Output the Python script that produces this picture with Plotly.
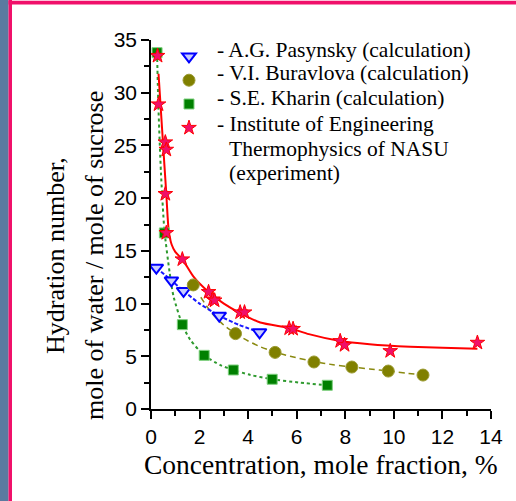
import plotly.graph_objects as go

# ---- data ----
# A.G. Pasynsky (calculation)
pas_x = [0.22, 0.84, 1.34, 2.81, 4.47]
pas_y = [13.4, 12.2, 11.2, 8.85, 7.28]
pas_fit_x = [0.22, 0.84, 1.34, 2.0, 2.81, 3.6, 4.47]
pas_fit_y = [13.4, 12.2, 11.2, 10.0, 8.85, 8.0, 7.28]

# V.I. Buravlova (calculation)
bur_x = [1.74, 3.48, 5.11, 6.71, 8.27, 9.77, 11.2]
bur_y = [11.77, 7.15, 5.37, 4.46, 3.98, 3.6, 3.22]
bur_fit_x = [2.05, 2.5, 3.0, 3.48, 4.0, 4.5, 5.1, 5.73, 6.7, 7.5, 8.3, 9.0, 9.8, 10.5, 11.2]
bur_fit_y = [10.6, 9.1, 7.95, 7.15, 6.45, 5.9, 5.4, 5.0, 4.5, 4.2, 3.98, 3.8, 3.6, 3.4, 3.22]

# S.E. Kharin (calculation)
kha_x = [0.25, 0.55, 1.29, 2.19, 3.39, 4.99, 7.26]
kha_y = [33.8, 16.7, 8.0, 5.09, 3.7, 2.82, 2.25]
kha_fit_x = [0.25, 0.3, 0.41, 0.55, 0.77, 0.93, 1.29, 1.62, 2.19, 2.85, 3.39, 4.09, 4.99, 6.14, 7.26]
kha_fit_y = [33.8, 29.0, 22.4, 17.0, 12.9, 10.65, 8.0, 6.55, 5.09, 4.17, 3.7, 3.23, 2.82, 2.5, 2.25]

# Institute of Engineering Thermophysics of NASU (experiment)
exp_x = [0.27, 0.31, 0.59, 0.63, 0.59, 0.63, 1.29, 2.37, 2.55, 2.62, 3.67, 3.85, 5.69, 5.85, 7.79, 7.97, 9.85, 13.44]
exp_y = [33.5, 28.9, 25.3, 24.6, 20.4, 16.7, 14.2, 11.1, 10.4, 10.3, 9.17, 9.17, 7.65, 7.6, 6.45, 6.07, 5.5, 6.29]
exp_fit_x = [0.31, 0.45, 0.55, 0.63, 0.68, 0.73, 0.85, 1.0, 1.29, 1.75, 2.37, 3.0, 3.67, 4.5, 5.73, 6.5, 7.79, 9.0, 10.67, 12.0, 13.44]
exp_fit_y = [31.8, 26.8, 23.2, 20.4, 18.4, 16.9, 15.6, 14.9, 14.2, 12.55, 11.1, 10.0, 9.1, 8.2, 7.66, 7.1, 6.45, 6.15, 5.91, 5.8, 5.72]

legend_lines = [
    "- A.G. Pasynsky (calculation)",
    "- V.I. Buravlova (calculation)",
    "- S.E. Kharin (calculation)",
    "- Institute of Engineering",
    "Thermophysics of NASU",
    "(experiment)",
]
x_title = "Concentration, mole fraction, %"
y_title_lines = ["Hydration number,", "mole of water / mole of sucrose"]

fig = go.Figure()

# fit lines
fig.add_trace(go.Scatter(x=kha_fit_x, y=kha_fit_y, mode="lines", showlegend=False,
                         line=dict(color="#2e9a2e", width=2, dash="dot", shape="spline", smoothing=0.6)))
fig.add_trace(go.Scatter(x=bur_fit_x, y=bur_fit_y, mode="lines", showlegend=False,
                         line=dict(color="#8a8a10", width=1.5, dash="6px,4px", shape="spline", smoothing=0.6)))
fig.add_trace(go.Scatter(x=pas_fit_x, y=pas_fit_y, mode="lines", showlegend=False,
                         line=dict(color="#1a1aff", width=2, dash="4px,2px", shape="spline", smoothing=0.6)))
fig.add_trace(go.Scatter(x=exp_fit_x, y=exp_fit_y, mode="lines", showlegend=False,
                         line=dict(color="#ff0000", width=2, shape="spline", smoothing=0.6)))

# markers (legend entries carry the symbols; texts are annotations)
fig.add_trace(go.Scatter(x=pas_x, y=pas_y, mode="markers", name="\u00a0",
                         marker=dict(symbol="triangle-down", size=12, color="#c8ccff",
                                     line=dict(color="#0000ff", width=2))))
fig.add_trace(go.Scatter(x=bur_x, y=bur_y, mode="markers", name="\u00a0",
                         marker=dict(symbol="circle", size=12, color="#808000",
                                     line=dict(color="#9a9a30", width=1))))
fig.add_trace(go.Scatter(x=kha_x, y=kha_y, mode="markers", name="\u00a0",
                         marker=dict(symbol="square", size=10, color="#008000",
                                     line=dict(color="#7fd07f", width=1))))
fig.add_trace(go.Scatter(x=exp_x, y=exp_y, mode="markers", name="\u00a0",
                         marker=dict(symbol="star", size=11, color="#f0106a",
                                     line=dict(color="#ff0000", width=1))))

axis_common = dict(showgrid=False, zeroline=False, showline=True, linecolor="black", linewidth=1.5,
                   ticks="outside", ticklen=8, tickwidth=1.5, tickcolor="black",
                   tickfont=dict(family="Liberation Sans, Arial", size=21, color="black"))

fig.update_xaxes(range=[0, 14], dtick=2, tick0=0,
                 minor=dict(dtick=1, ticks="outside", ticklen=5, tickwidth=1.5, tickcolor="black"),
                 **axis_common)
fig.update_yaxes(range=[0, 35], dtick=5, tick0=0,
                 minor=dict(dtick=2.5, ticks="outside", ticklen=5, tickwidth=1.5, tickcolor="black"),
                 **axis_common)

W, H = 516, 501
L, R, T, B = 151, 25, 40, 92
pw, ph = W - L - R, H - T - B


def px(xp):
    return (xp - L) / pw


def py(yp):
    return (H - B - yp) / ph


shapes = [
    dict(type="rect", xref="paper", yref="paper", x0=px(0), x1=px(8.5), y0=py(H), y1=py(0),
         fillcolor="#5b7aa0", line=dict(width=0), layer="below"),
    dict(type="rect", xref="paper", yref="paper", x0=px(8.5), x1=px(12), y0=py(H), y1=py(0),
         fillcolor="#f0106a", line=dict(width=0), layer="below"),
    dict(type="rect", xref="paper", yref="paper", x0=px(8.5), x1=px(W), y0=py(4.5), y1=py(0.8),
         fillcolor="#f0106a", line=dict(width=0), layer="below"),
]

serif = "Liberation Serif, Times New Roman"
annotations = [
    dict(text=x_title, xref="paper", yref="paper", x=px(320.5), y=py(464), xanchor="center", yanchor="middle",
         showarrow=False, font=dict(family=serif, size=27.5, color="black")),
]
for txt, xc in zip(y_title_lines, [55, 94]):
    annotations.append(dict(text=txt, xref="paper", yref="paper", x=px(xc), y=py(256),
                            xanchor="center", yanchor="middle", textangle=-90, showarrow=False,
                            font=dict(family=serif, size=26, color="black")))
leg_y = [50, 73, 98, 124, 148.5, 173]
leg_x = [215, 215, 215, 215, 227, 227]
for txt, xl, yc in zip(legend_lines, leg_x, leg_y):
    annotations.append(dict(text=txt, xref="paper", yref="paper", x=px(xl), y=py(yc),
                            xanchor="left", yanchor="middle", showarrow=False,
                            font=dict(family=serif, size=21.5, color="black")))

fig.update_layout(
    width=W, height=H,
    margin=dict(l=L, r=R, t=T, b=B),
    paper_bgcolor="white", plot_bgcolor="white",
    shapes=shapes, annotations=annotations,
    legend=dict(x=px(169), y=py(39.5), xanchor="left", yanchor="top",
                bgcolor="rgba(0,0,0,0)", font=dict(family=serif, size=16, color="black"),
                itemwidth=30, tracegroupgap=0),
    showlegend=True,
)

fig.write_html("out.html")
